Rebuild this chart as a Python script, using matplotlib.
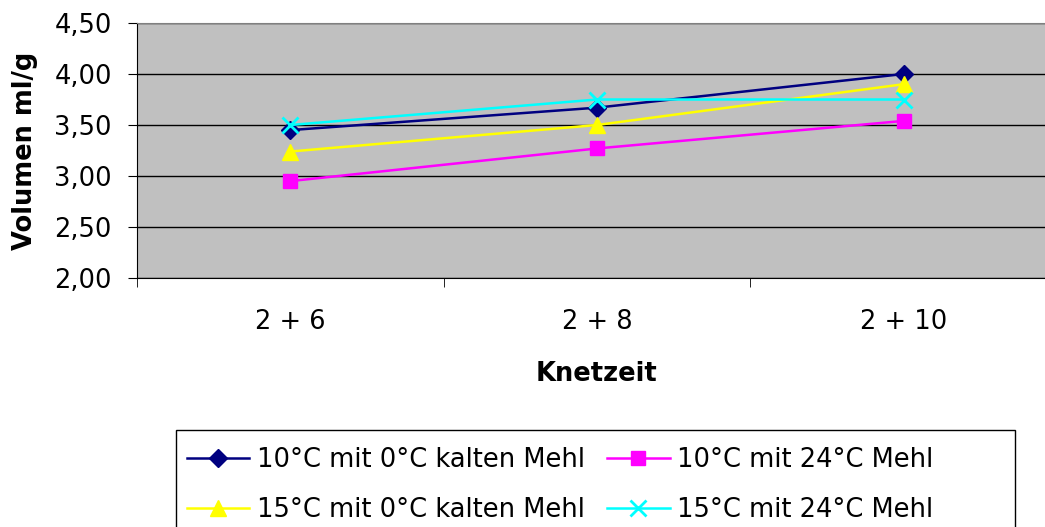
import numpy as np
from matplotlib import pyplot as plt
from matplotlib import patches
from matplotlib.ticker import FuncFormatter

# Knetzeit categories and volumes (ml/g)
knetzeit = ['2 + 6', '2 + 8', '2 + 10']
vol_10_0 = [3.45, 3.67, 4.00]
vol_10_24 = [2.95, 3.27, 3.54]
vol_15_0 = [3.24, 3.50, 3.90]
vol_15_24 = [3.50, 3.75, 3.75]
labels = ['10°C mit 0°C kalten Mehl', '10°C mit 24°C Mehl',
          '15°C mit 0°C kalten Mehl', '15°C mit 24°C Mehl']
y_ticks = [2.0, 2.5, 3.0, 3.5, 4.0, 4.5]

plt.rcParams['font.family'] = ['DejaVu Sans']
fs = 18.5

fig = plt.figure(figsize=(10.45, 5.27), dpi=100)
ax = fig.add_axes([137/1045, 249/527, 920/1045, 255/527])
ax.set_facecolor('#C0C0C0')

x = np.arange(len(knetzeit))
l1, = ax.plot(x, vol_10_0, color='#000080', marker='D', markersize=9.5, lw=1.8, label=labels[0])
l2, = ax.plot(x, vol_10_24, color='#FF00FF', marker='s', markersize=9.5, lw=1.8, label=labels[1])
l3, = ax.plot(x, vol_15_0, color='#FFFF00', marker='^', markersize=11, lw=1.8, label=labels[2])
l4, = ax.plot(x, vol_15_24, color='#00FFFF', marker='x', markersize=11, markeredgewidth=2, lw=1.8, label=labels[3])

ax.set_xlim(-0.5, len(knetzeit) - 0.5)
ax.set_ylim(2.0, 4.5)
ax.set_yticks(y_ticks)
ax.yaxis.set_major_formatter(FuncFormatter(lambda v, p: ('%.2f' % v).replace('.', ',')))
ax.grid(axis='y', color='black', lw=1)
ax.set_axisbelow(True)

ax.set_xticks(x)
ax.set_xticklabels(knetzeit)
ax.set_xticks(np.arange(-0.5, len(knetzeit)), minor=True)
ax.tick_params(axis='x', which='major', length=0, pad=22, labelsize=fs)
ax.tick_params(axis='x', which='minor', length=6.5, direction='out', color='black')
ax.tick_params(axis='y', length=6.5, direction='out', pad=11.5, labelsize=fs)

for s in ['top', 'right']:
    ax.spines[s].set_color('#808080')
ax.spines['left'].set_color('black')
ax.spines['bottom'].set_color('black')

ax.set_xlabel('Knetzeit', fontsize=fs, fontweight='bold', labelpad=19)
ax.set_ylabel('Volumen ml/g', fontsize=fs, fontweight='bold', labelpad=12)

fig.legend([l1, l3, l2, l4], [labels[0], labels[2], labels[1], labels[3]],
           ncol=2, loc='upper left', bbox_to_anchor=(163/1045, 104/527),
           bbox_transform=fig.transFigure, frameon=False, fontsize=fs,
           borderpad=0.42, handlelength=2.42, handletextpad=0.3,
           columnspacing=0.89, labelspacing=0.93)

# legend box, runs past the bottom edge like in the original
fig.add_artist(patches.Rectangle((176/1045, -0.1), 839/1045, 97/527 + 0.1,
                                 transform=fig.transFigure, fill=False,
                                 ec='black', lw=1))

plt.savefig('out.png', dpi=100)
